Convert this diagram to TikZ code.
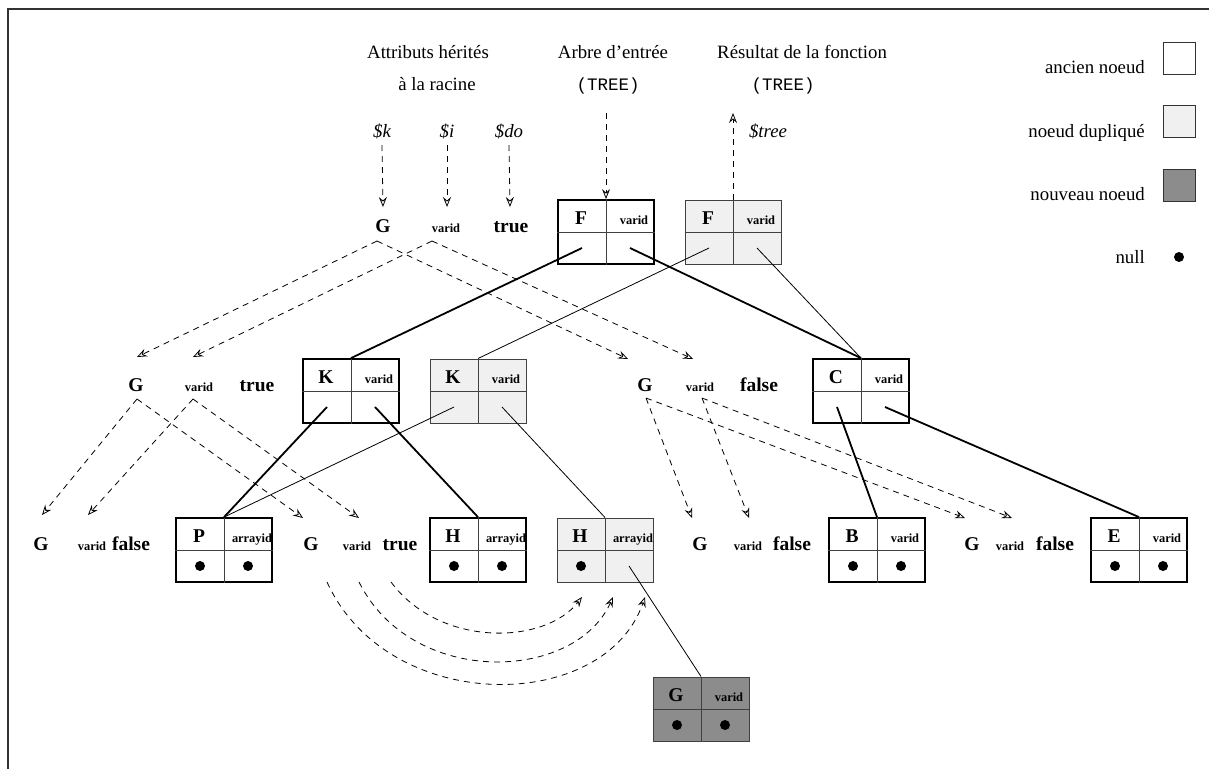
\documentclass[tikz,border=0pt]{standalone}
\usepackage{fontspec}
\setmainfont{Liberation Serif}
\setmonofont{Liberation Mono}
\usetikzlibrary{arrows.meta,calc}
\definecolor{dupfill}{gray}{0.94}
\definecolor{newfill}{gray}{0.55}
\tikzset{
 txt/.style={inner sep=0pt, anchor=base, font=\fontsize{18.8}{20}\selectfont},
 txtr/.style={inner sep=0pt, anchor=base east, font=\fontsize{18.8}{20}\selectfont},
 mono/.style={inner sep=0pt, anchor=base, font=\fontsize{17.5}{20}\selectfont\ttfamily},
 ital/.style={inner sep=0pt, anchor=base, font=\fontsize{18.8}{20}\selectfont\itshape},
 bigb/.style={inner sep=0pt, anchor=base, font=\fontsize{19.5}{20}\selectfont\bfseries},
 smallb/.style={inner sep=0pt, anchor=base, font=\fontsize{12.4}{14}\selectfont\bfseries},
 recbase/.style={minimum width=96pt, minimum height=64pt, inner sep=0pt},
 oldbox/.style={recbase, draw=black, line width=1.8pt, fill=white},
 dupbox/.style={recbase, draw=black!75, line width=1pt, fill=dupfill},
 newbox/.style={recbase, draw=black!75, line width=1pt, fill=newfill},
 divline/.style={line width=1pt, draw=black!75},
 ptr/.style={line width=1.8pt},
 ptrthin/.style={line width=0.8pt},
 flow/.style={dash pattern=on 6pt off 5pt, line width=0.8pt, -{Stealth[open,length=10pt,width=8pt,inset=3.5pt]}},
 nulldot/.style={circle, fill=black, inner sep=0pt, minimum size=10pt},
 legbox/.style={minimum width=32pt, minimum height=32pt, inner sep=0pt, draw=black!80, line width=1pt},
}
\newcommand\recnode[6]{%
  \node[#4] (#1) at (#2,#3) {};
  \draw[divline] (#1.north) -- (#1.south) (#1.west) -- (#1.east);
  \node[bigb] (#1-let) at ($(#1.center)+(-25pt,7.5pt)$) {#5};
  \node[smallb] (#1-lab) at ($(#1.center)+(28pt,7.5pt)$) {#6};
  \coordinate (#1-bl) at ($(#1.center)+(-24pt,-16pt)$);
  \coordinate (#1-br) at ($(#1.center)+(24pt,-16pt)$);
}
\newcommand\nulls[1]{%
  \node[nulldot] (#1-n1) at (#1-bl) {};
  \node[nulldot] (#1-n2) at (#1-br) {};
}
\begin{document}
\begin{tikzpicture}[x=1pt,y=-1pt]
\useasboundingbox (0,0) rectangle (1209,769);
\draw[line width=1.5pt, black!80] (8,769) -- (8,9) -- (1209,9);

% headers
\node[txt] (h1) at (428,58) {Attributs hérités};
\node[txt] (h2) at (437,90) {à la racine};
\node[txt] (h3) at (613,58) {Arbre d’entrée};
\node[mono] (h4) at (608,90) {(TREE)};
\node[txt, anchor=base west] (h5) at (717,58) {Résultat de la fonction};
\node[mono] (h6) at (783,90) {(TREE)};
\node[ital] (lk) at (382,137) {\$k};
\node[ital] (li) at (447,137) {\$i};
\node[ital] (ldo) at (509,137) {\$do};
\node[ital] (ltree) at (768,137) {\$tree};

% legend
\node[txtr] (lg1) at (1145,73) {ancien noeud};
\node[legbox, fill=white] (lb1) at (1179,58) {};
\node[txtr] (lg2) at (1145,137) {noeud dupliqué};
\node[legbox, fill=dupfill] (lb2) at (1179,121) {};
\node[txtr] (lg3) at (1145,200) {nouveau noeud};
\node[legbox, fill=newfill] (lb3) at (1179,185) {};
\node[txtr] (lg4) at (1145,263) {null};
\node[nulldot] (lb4) at (1179,257) {};

% triples
\node[bigb] (r-G) at (383,232) {G};
\node[smallb] (r-V) at (446,232) {varid};
\node[bigb] (r-B) at (511,232) {true};
\node[bigb] (a-G) at (136,391) {G};
\node[smallb] (a-V) at (199,391) {varid};
\node[bigb] (a-B) at (257,391) {true};
\node[bigb] (b-G) at (645,391) {G};
\node[smallb] (b-V) at (700,391) {varid};
\node[bigb] (b-B) at (759,391) {false};
\node[bigb] (c-G) at (41,550) {G};
\node[smallb] (c-V) at (92,550) {varid};
\node[bigb] (c-B) at (131,550) {false};
\node[bigb] (d-G) at (311,550) {G};
\node[smallb] (d-V) at (357,550) {varid};
\node[bigb] (d-B) at (400,550) {true};
\node[bigb] (e-G) at (700,550) {G};
\node[smallb] (e-V) at (748,550) {varid};
\node[bigb] (e-B) at (792,550) {false};
\node[bigb] (f-G) at (972,550) {G};
\node[smallb] (f-V) at (1010,550) {varid};
\node[bigb] (f-B) at (1055,550) {false};

% records
\recnode{F1}{606}{232}{oldbox}{F}{varid}
\recnode{F2}{733}{232}{dupbox}{F}{varid}
\recnode{K1}{351}{391}{oldbox}{K}{varid}
\recnode{K2}{478}{391}{dupbox}{K}{varid}
\recnode{C}{861}{391}{oldbox}{C}{varid}
\recnode{P}{224}{550}{oldbox}{P}{arrayid}
\recnode{H1}{478}{550}{oldbox}{H}{arrayid}
\recnode{H2}{605}{550}{dupbox}{H}{arrayid}
\recnode{B}{877}{550}{oldbox}{B}{varid}
\recnode{E}{1139}{550}{oldbox}{E}{varid}
\recnode{Gn}{701}{709}{newbox}{G}{varid}
\nulls{P}
\nulls{H1}
\node[nulldot] (H2-n1) at (H2-bl) {};
\nulls{B}
\nulls{E}
\nulls{Gn}

% pointers
\draw[ptr] (F1-bl) -- (K1.north);
\draw[ptr] (F1-br) -- (C.north);
\draw[ptrthin] (F2-bl) -- (K2.north);
\draw[ptrthin] (F2-br) -- (C.north);
\draw[ptr] (K1-bl) -- (P.north);
\draw[ptr] (K1-br) -- (H1.north);
\draw[ptrthin] (K2-bl) -- (P.north);
\draw[ptrthin] (K2-br) -- (H2.north);
\draw[ptr] (C-bl) -- (B.north);
\draw[ptr] (C-br) -- (E.north);
\draw[ptrthin] (H2-br) -- (Gn.north);

% top flows
\coordinate (tk) at (383,207);
\coordinate (ti) at (447,207);
\coordinate (tdo) at (510,207);
\coordinate (inF) at (606,113);
\coordinate (outF) at (733,113);
\draw[flow] ([yshift=-8pt]lk.base) -- (tk);
\draw[flow] ([yshift=-8pt]li.base) -- (ti);
\draw[flow] ([yshift=-8pt]ldo.base) -- (tdo);
\draw[flow] (inF) -- (F1.north);
\draw[flow] (F2.north) -- (outF);

% attribute flows
\coordinate (rg) at (377,241);
\coordinate (rv) at (432,241);
\coordinate (ag) at (137,399);
\coordinate (av) at (193,399);
\coordinate (bg) at (646,398);
\coordinate (bv) at (702,398);
\draw[flow] (rg) -- (137,357) coordinate (tag);
\draw[flow] (rg) -- (628,359) coordinate (tbg);
\draw[flow] (rv) -- (193,357) coordinate (tav);
\draw[flow] (rv) -- (693,359) coordinate (tbv);
\draw[flow] (ag) -- (42,515) coordinate (tcg);
\draw[flow] (ag) -- (303,518) coordinate (tdg);
\draw[flow] (av) -- (88,515) coordinate (tcv);
\draw[flow] (av) -- (359,518) coordinate (tdv);
\draw[flow] (bg) -- (692,518) coordinate (teg);
\draw[flow] (bg) -- (965,518) coordinate (tfg);
\draw[flow] (bv) -- (749,518) coordinate (tev);
\draw[flow] (bv) -- (1012,518) coordinate (tfv);

% synthesized flows
\coordinate (s1) at (391,582);
\coordinate (s2) at (359,582);
\coordinate (s3) at (327,582);
\coordinate (e1) at (582,597);
\coordinate (e2) at (613,597);
\coordinate (e3) at (645,597);
\draw[flow] (s1) .. controls (440,648) and (545,645) .. (e1);
\draw[flow] (s2) .. controls (412,688) and (575,682) .. (e2);
\draw[flow] (s3) .. controls (388,716) and (605,714) .. (e3);
\end{tikzpicture}
\end{document}
